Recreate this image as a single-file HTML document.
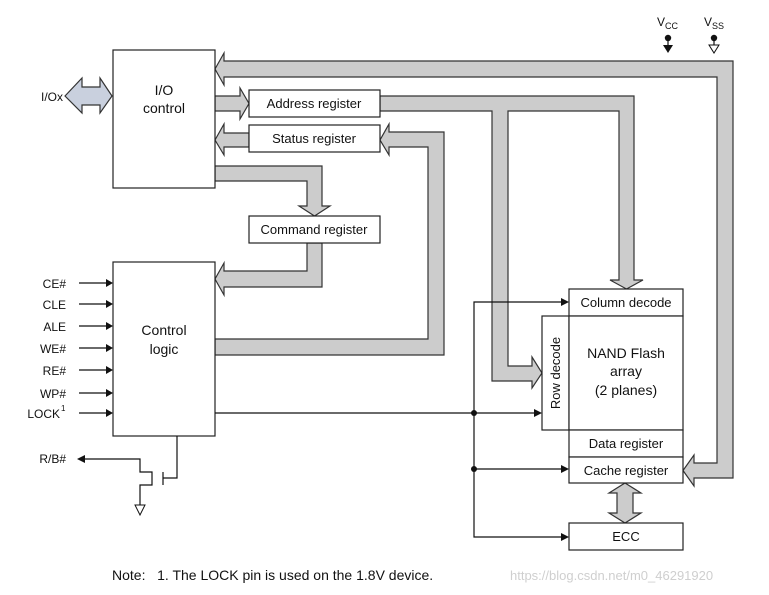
<!DOCTYPE html>
<html><head><meta charset="utf-8"><style>
html,body{margin:0;padding:0;background:#fff;}
svg{display:block;}
text{font-family:"Liberation Sans",sans-serif;fill:#111;}
</style></head><body>
<svg width="769" height="595" viewBox="0 0 769 595" xmlns="http://www.w3.org/2000/svg">
<g fill="#cccccc" stroke="#333" stroke-width="1.2" stroke-linejoin="miter">
<polygon points="215,69 224,53 224,61 733,61 733,478 694,478 694,486 683,470.5 694,455 694,463 717,463 717,77 224,77 224,85"/>
<polygon points="215,96 240,96 240,88 249,103.5 240,119 240,111 215,111"/>
<polygon points="380,96 634,96 634,280 643,280 626.5,289 610,280 619,280 619,111 508,111 508,366 532,366 532,357 542,373 532,388 532,381 492,381 492,111 380,111"/>
<polygon points="215,140 224,124 224,133 249,133 249,147 224,147 224,155"/>
<polygon points="380,140 389,124 389,132 444,132 444,355 215,355 215,339 428,339 428,147 389,147 389,155"/>
<polygon points="215,166 322,166 322,206 330,206 314.5,216 299,206 307,206 307,181 215,181"/>
<polygon points="307,243 322,243 322,287 224,287 224,295 215,279 224,263 224,271 307,271"/>
<polygon points="625,483 641,493 633,493 633,513 641,513 625,523 609,513 617,513 617,493 609,493"/>
</g>
<polygon points="65,96 82,78 82,87 100,87 100,78 112,96 100,113 100,105 82,105 82,113" fill="#c9d0de" stroke="#333" stroke-width="1.2"/>
<g fill="#fff" stroke="#222" stroke-width="1.2">
<rect x="113" y="50" width="102" height="138"/>
<rect x="113" y="262" width="102" height="174"/>
<rect x="249" y="90" width="131" height="27"/>
<rect x="249" y="125" width="131" height="27"/>
<rect x="249" y="216" width="131" height="27"/>
<rect x="569" y="289" width="114" height="27"/>
<rect x="542" y="316" width="27" height="114"/>
<rect x="569" y="316" width="114" height="114"/>
<rect x="569" y="430" width="114" height="27"/>
<rect x="569" y="457" width="114" height="26"/>
<rect x="569" y="523" width="114" height="27"/>
</g>
<g stroke="#111" stroke-width="1.2" fill="none">
<line x1="79" y1="283" x2="106" y2="283"/><line x1="79" y1="304" x2="106" y2="304"/>
<line x1="79" y1="326" x2="106" y2="326"/><line x1="79" y1="348" x2="106" y2="348"/>
<line x1="79" y1="370" x2="106" y2="370"/><line x1="79" y1="393" x2="106" y2="393"/>
<line x1="79" y1="413" x2="106" y2="413"/>
<line x1="215" y1="413" x2="535" y2="413"/>
<polyline points="563,302 474,302 474,537 563,537"/>
<line x1="474" y1="469" x2="563" y2="469"/>
<polyline points="84,459 140,459 140,472 152,472 152,485 140,485 140,505"/>
<line x1="163" y1="472" x2="163" y2="485"/>
<polyline points="177,436 177,478 163,478"/>
<line x1="668" y1="38" x2="668" y2="46"/>
<line x1="714" y1="38" x2="714" y2="46"/>
</g>
<g fill="#111">
<polygon points="106,279 113,283 106,287"/><polygon points="106,300 113,304 106,308"/>
<polygon points="106,322 113,326 106,330"/><polygon points="106,344 113,348 106,352"/>
<polygon points="106,366 113,370 106,374"/><polygon points="106,389 113,393 106,397"/>
<polygon points="106,409 113,413 106,417"/>
<polygon points="534,409 542,413 534,417"/>
<polygon points="561,298 569,302 561,306"/>
<polygon points="561,465 569,469 561,473"/>
<polygon points="561,533 569,537 561,541"/>
<polygon points="77,459 85,455 85,463"/>
<circle cx="474" cy="413" r="3"/><circle cx="474" cy="469" r="3"/>
<circle cx="668" cy="38" r="3.2"/><circle cx="714" cy="38" r="3.2"/>
<polygon points="663,45 673,45 668,53"/>
</g>
<polygon points="709,45 719,45 714,53" fill="#fff" stroke="#111" stroke-width="1"/>
<polygon points="135,505 145,505 140,515" fill="#fff" stroke="#111" stroke-width="1"/>
<g font-size="13" text-anchor="middle">
<text x="164" y="95" font-size="14">I/O</text>
<text x="164" y="113" font-size="14">control</text>
<text x="164" y="335" font-size="14">Control</text>
<text x="164" y="354" font-size="14">logic</text>
<text x="314" y="108">Address register</text>
<text x="314" y="143">Status register</text>
<text x="314" y="234">Command register</text>
<text x="626" y="307">Column decode</text>
<text x="626" y="358" font-size="14">NAND Flash</text>
<text x="626" y="376" font-size="14">array</text>
<text x="626" y="395" font-size="14">(2 planes)</text>
<text x="626" y="448">Data register</text>
<text x="626" y="475">Cache register</text>
<text x="626" y="541">ECC</text>
<text transform="translate(560,373) rotate(-90)">Row decode</text>
</g>
<g font-size="12" text-anchor="end">
<text x="63" y="101">I/Ox</text>
<text x="66" y="288">CE#</text><text x="66" y="309">CLE</text>
<text x="66" y="331">ALE</text><text x="66" y="353">WE#</text>
<text x="66" y="375">RE#</text><text x="66" y="398">WP#</text>
<text x="60" y="418">LOCK</text>
<text x="66" y="463">R/B#</text>
</g>
<text x="61" y="411" font-size="8">1</text>
<text x="657" y="26" font-size="12">V<tspan font-size="9" dy="3">CC</tspan></text>
<text x="704" y="26" font-size="12">V<tspan font-size="9" dy="3">SS</tspan></text>
<text x="112" y="580" font-size="14" xml:space="preserve">Note:   1. The LOCK pin is used on the 1.8V device.</text>
<text x="510" y="580" font-size="13" style="fill:#cfcfcf">https://blog.csdn.net/m0_46291920</text>
</svg>
</body></html>
